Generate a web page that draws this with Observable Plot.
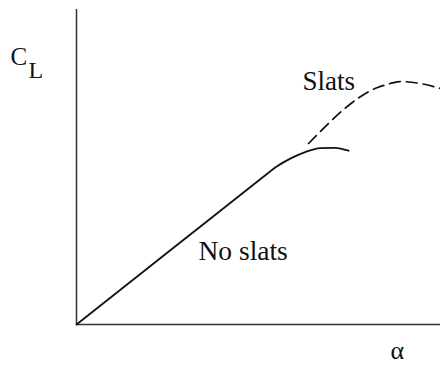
<!DOCTYPE html>
<html>
<head>
<meta charset="utf-8">
<script src="https://cdn.jsdelivr.net/npm/d3@7"></script>
<script src="https://cdn.jsdelivr.net/npm/@observablehq/plot@0.6"></script>
<style>
  html, body { margin: 0; padding: 0; background: #fff; }
  #chart svg { display: block; }
  #chart svg text { font-family: "Liberation Serif", "Times New Roman", serif; }
</style>
</head>
<body>
<div id="chart"></div>
<script>
// angle of attack (arbitrary units) and lift coefficient (arbitrary units)
const noSlatsAlpha = [0, 5, 10.2, 11, 11.8, 12.6, 13.4, 14.2, 14.95];
const noSlatsCL    = [0, 0.685, 1.397, 1.505, 1.585, 1.645, 1.68, 1.683, 1.655];
const slatsAlpha = [12.75, 16.54, 17.25, 17.8, 18.9, 20];
const slatsCL    = [1.724, 2.257, 2.295, 2.314, 2.295, 2.248];

const labelText  = ["Slats", "No slats", "α"];
const labelAlpha = [12.42, 6.70, 17.25];
const labelCL    = [2.238, 0.61, -0.333];
const labelSize  = [27, 27.5, 26];

const axisLabelText  = ["C", "L"];
const axisLabelAlpha = [-3.63, -2.64];
const axisLabelCL    = [2.467, 2.352];
const axisLabelSize  = [25, 24];

const noSlats = noSlatsAlpha.map((a, i) => ({a, cl: noSlatsCL[i]}));
const slats = slatsAlpha.map((a, i) => ({a, cl: slatsCL[i]}));
const labels = labelText.map((t, i) => ({t, a: labelAlpha[i], cl: labelCL[i], s: labelSize[i]}));
const axisLabels = axisLabelText.map((t, i) => ({t, a: axisLabelAlpha[i], cl: axisLabelCL[i], s: axisLabelSize[i]}));

const font = "'Liberation Serif', 'Times New Roman', serif";

const chart = Plot.plot({
  width: 440,
  height: 365,
  marginLeft: 76,
  marginRight: 0,
  marginTop: 9,
  marginBottom: 41,
  x: {domain: [0, 20], axis: null},
  y: {domain: [0, 3], axis: null},
  style: {fontFamily: font, background: "#fff"},
  marks: [
    Plot.ruleX([0], {stroke: "#333", strokeWidth: 1.5}),
    Plot.ruleY([0], {stroke: "#333", strokeWidth: 1.5}),
    Plot.line(noSlats, {x: "a", y: "cl", curve: "monotone-x", stroke: "#111", strokeWidth: 1.8}),
    Plot.line(slats, {x: "a", y: "cl", curve: "monotone-x", stroke: "#111", strokeWidth: 1.7, strokeDasharray: "11,6"}),
    Plot.text(labels, {x: "a", y: "cl", text: "t", textAnchor: "start", lineAnchor: "bottom", fontSize: "s", fontFamily: font, fill: "#111"}),
    Plot.text(axisLabels, {x: "a", y: "cl", text: "t", textAnchor: "start", lineAnchor: "bottom", fontSize: "s", fontFamily: font, fill: "#111"})
  ]
});
document.getElementById("chart").appendChild(chart);
</script>
</body>
</html>
